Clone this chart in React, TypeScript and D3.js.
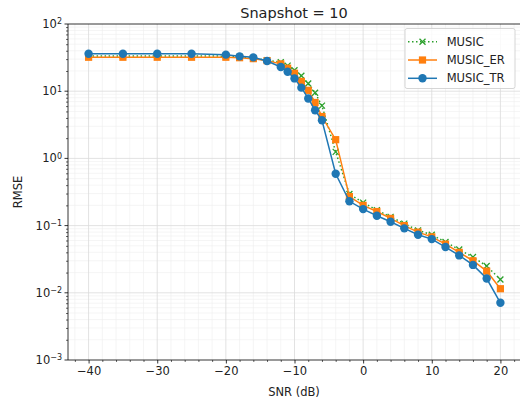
import React, { useRef, useEffect } from 'react';
import * as d3 from 'd3';

const snr = [-40, -35, -30, -25, -20, -18, -16, -14, -12, -11, -10, -9, -8, -7, -6, -4, -2, 0, 2, 4, 6, 8, 10, 12, 14, 16, 18, 20];

const music = [33.5, 33.5, 33.5, 33.5, 33.2, 32.5, 31, 29, 27, 24, 20.5, 17, 13, 9.5, 6.1, 1.25, 0.295, 0.22, 0.17, 0.135, 0.107, 0.085, 0.073, 0.057, 0.044, 0.034, 0.025, 0.0158];
const musicEr = [32, 32, 32, 32, 32, 31.5, 30.5, 28.5, 25.5, 22, 18.5, 14, 10.3, 6.8, 4.2, 1.9, 0.27, 0.2, 0.162, 0.128, 0.1, 0.08, 0.068, 0.053, 0.04, 0.03, 0.021, 0.0115];
const musicTr = [36, 36, 36, 36, 35, 33, 31.9, 28.1, 22.9, 19.5, 15.5, 11.3, 7.8, 5.2, 3.7, 0.59, 0.23, 0.176, 0.14, 0.114, 0.091, 0.073, 0.063, 0.048, 0.036, 0.026, 0.0163, 0.0071];

const seriesNames = ['MUSIC', 'MUSIC_ER', 'MUSIC_TR'];
const xTicks = [-40, -30, -20, -10, 0, 10, 20];
const yExponents = [2, 1, 0, -1, -2, -3];

const FONT = 'DejaVu Sans, sans-serif';
const FS = 11.5;

const Chart = () => {
  const ref = useRef<SVGSVGElement>(null);

  useEffect(() => {
    const width = 520;
    const height = 402;
    const margin = { top: 24, left: 68, bottom: 42 };

    const svg = d3.select(ref.current).attr('width', width).attr('height', height);
    svg.selectAll('*').remove();

    const x = d3.scaleLinear().domain([-43, 23]).range([margin.left, 521]);
    const y = d3.scaleLog().domain([1e-3, 1e2]).range([height - margin.bottom, margin.top]);

    svg.append('rect').attr('width', width).attr('height', height).attr('fill', '#fff');

    const clip = svg.append('defs').append('clipPath').attr('id', 'plot-clip');
    clip.append('rect')
      .attr('x', margin.left).attr('y', margin.top)
      .attr('width', 521 - margin.left).attr('height', y(1e-3) - y(1e2));

    // grid: minor first then major
    const grid = svg.append('g');
    const xMinor = d3.range(-42, 23, 2).filter(v => v % 10 !== 0);
    const yMinor: number[] = [];
    for (let e = -3; e < 2; e++) for (let s = 2; s < 10; s++) yMinor.push(s * Math.pow(10, e));

    grid.selectAll('.xmin').data(xMinor).enter().append('line')
      .attr('x1', d => x(d)).attr('x2', d => x(d))
      .attr('y1', y(1e-3)).attr('y2', y(1e2))
      .attr('stroke', '#efefef').attr('stroke-width', 0.6);
    grid.selectAll('.ymin').data(yMinor).enter().append('line')
      .attr('x1', margin.left).attr('x2', 521)
      .attr('y1', d => y(d)).attr('y2', d => y(d))
      .attr('stroke', '#efefef').attr('stroke-width', 0.6);
    grid.selectAll('.xmaj').data(xTicks).enter().append('line')
      .attr('x1', d => x(d)).attr('x2', d => x(d))
      .attr('y1', y(1e-3)).attr('y2', y(1e2))
      .attr('stroke', '#dadada').attr('stroke-width', 0.8);
    grid.selectAll('.ymaj').data(yExponents.slice(1, 5)).enter().append('line')
      .attr('x1', margin.left).attr('x2', 521)
      .attr('y1', d => y(Math.pow(10, d))).attr('y2', d => y(Math.pow(10, d)))
      .attr('stroke', '#dadada').attr('stroke-width', 0.8);

    // series
    const colors = ['#2ca02c', '#ff7f0e', '#1f77b4'];
    const all = [music, musicEr, musicTr];
    const line = d3.line<number>().x((_, i) => x(snr[i])).y(d => y(d));
    const plot = svg.append('g').attr('clip-path', 'url(#plot-clip)');

    const drawMarker = (g: any, kind: number, cx: number, cy: number, color: string) => {
      if (kind === 0) {
        const s = 3;
        g.append('path')
          .attr('d', `M${cx - s},${cy - s}L${cx + s},${cy + s}M${cx - s},${cy + s}L${cx + s},${cy - s}`)
          .attr('stroke', color).attr('stroke-width', 1.3).attr('fill', 'none');
      } else if (kind === 1) {
        g.append('rect').attr('x', cx - 3.6).attr('y', cy - 3.6).attr('width', 7.2).attr('height', 7.2)
          .attr('fill', color);
      } else {
        g.append('circle').attr('cx', cx).attr('cy', cy).attr('r', 4.2).attr('fill', color);
      }
    };

    all.forEach((vals, k) => {
      plot.append('path').datum(vals)
        .attr('d', line)
        .attr('fill', 'none')
        .attr('stroke', colors[k])
        .attr('stroke-width', 1.5)
        .attr('stroke-dasharray', k === 0 ? '1.5,2.5' : null);
      const mg = plot.append('g');
      vals.forEach((v, i) => drawMarker(mg, k, x(snr[i]), y(v), colors[k]));
    });

    // axes
    const xAxis = svg.append('g').attr('transform', `translate(0,${y(1e-3)})`)
      .call(d3.axisBottom(x).tickValues(xTicks).tickSize(3.5).tickPadding(3.5)
        .tickFormat(d => d3.format('')(d as number).replace('-', '\u2212')));
    xAxis.select('.domain').remove();
    xAxis.selectAll('text').attr('font-family', FONT).attr('font-size', FS).attr('fill', '#222');
    xAxis.selectAll('line').attr('stroke', '#000').attr('stroke-width', 0.8);
    svg.append('g').attr('transform', `translate(0,${y(1e-3)})`)
      .call(d3.axisBottom(x).tickValues(xMinor).tickSize(2).tickFormat(() => ''))
      .call(g => g.select('.domain').remove())
      .selectAll('line').attr('stroke', '#000').attr('stroke-width', 0.6);

    const yAxis = svg.append('g').attr('transform', `translate(${margin.left},0)`);
    yAxis.append('g')
      .call(d3.axisLeft(y).tickValues(yMinor).tickSize(2).tickFormat(() => ''))
      .call(g => g.select('.domain').remove())
      .selectAll('line').attr('stroke', '#000').attr('stroke-width', 0.6);
    const yt = yAxis.selectAll('.ytick').data(yExponents).enter().append('g')
      .attr('transform', d => `translate(0,${y(Math.pow(10, d))})`);
    yt.append('line').attr('x1', -3.5).attr('x2', 0).attr('stroke', '#000').attr('stroke-width', 0.8);
    const lbl = yt.append('text').attr('x', -6).attr('dy', '0.35em').attr('text-anchor', 'end')
      .attr('font-family', FONT).attr('font-size', FS).attr('fill', '#222');
    lbl.append('tspan').text('10');
    lbl.append('tspan').attr('dy', '-0.45em').attr('font-size', 8)
      .text(d => String(d).replace('-', '\u2212'));

    // spines
    svg.append('line').attr('x1', margin.left).attr('x2', 521).attr('y1', y(1e2)).attr('y2', y(1e2))
      .attr('stroke', '#000').attr('stroke-width', 0.8);
    svg.append('line').attr('x1', margin.left).attr('x2', 521).attr('y1', y(1e-3)).attr('y2', y(1e-3))
      .attr('stroke', '#000').attr('stroke-width', 0.8);
    svg.append('line').attr('x1', margin.left).attr('x2', margin.left).attr('y1', y(1e2)).attr('y2', y(1e-3))
      .attr('stroke', '#000').attr('stroke-width', 0.8);

    // labels
    svg.append('text').attr('x', 294).attr('y', 17.5).attr('text-anchor', 'middle')
      .attr('font-family', FONT).attr('font-size', 14.5).attr('fill', '#222').text('Snapshot = 10');
    svg.append('text').attr('x', 294).attr('y', 396).attr('text-anchor', 'middle')
      .attr('font-family', FONT).attr('font-size', FS).attr('fill', '#222').text('SNR (dB)');
    svg.append('text').attr('transform', `translate(22,${(y(1e2) + y(1e-3)) / 2}) rotate(-90)`)
      .attr('text-anchor', 'middle')
      .attr('font-family', FONT).attr('font-size', FS).attr('fill', '#222').text('RMSE');

    // legend
    const lg = svg.append('g').attr('transform', 'translate(405,28.5)');
    lg.append('rect').attr('width', 110).attr('height', 60).attr('rx', 2)
      .attr('fill', '#fff').attr('fill-opacity', 0.8).attr('stroke', '#ccc').attr('stroke-width', 0.8);
    seriesNames.forEach((name, k) => {
      const cy = 13.2 + k * 18.3;
      lg.append('line').attr('x1', 3).attr('x2', 32).attr('y1', cy).attr('y2', cy)
        .attr('stroke', colors[k]).attr('stroke-width', 1.5)
        .attr('stroke-dasharray', k === 0 ? '1.5,2.5' : null);
      drawMarker(lg, k, 17.5, cy, colors[k]);
      lg.append('text').attr('x', 41.7).attr('y', cy).attr('dy', '0.35em')
        .attr('font-family', FONT).attr('font-size', FS).attr('fill', '#222').text(name);
    });
  }, []);

  return <svg ref={ref} style={{ position: 'absolute', left: 0, top: 0 }} />;
};

export default function App() {
  return <Chart />;
}
